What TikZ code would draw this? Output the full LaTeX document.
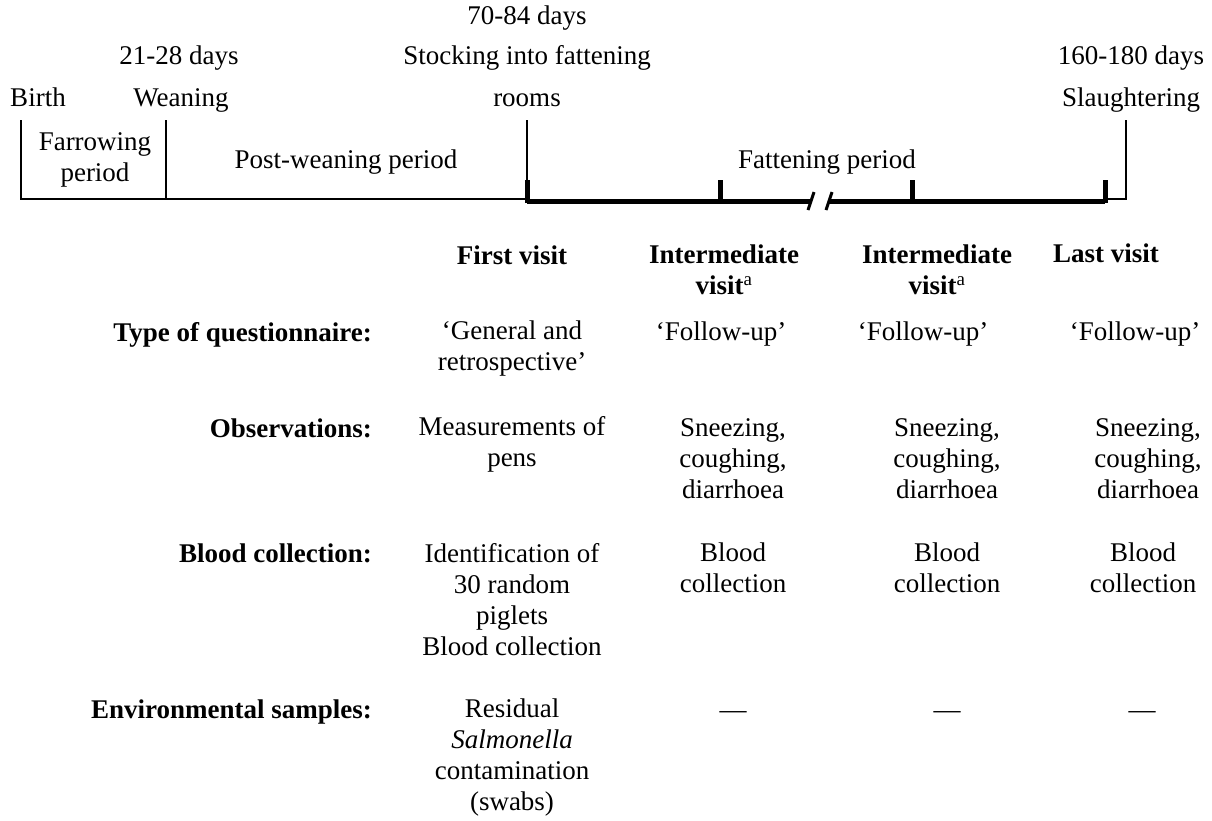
\documentclass[tikz,border=0pt]{standalone}
\usepackage{fontspec}
\setmainfont{Liberation Serif}
\begin{document}
\begin{tikzpicture}[x=1pt,y=-1pt,
  txt/.style={inner sep=0pt,align=center,font=\fontsize{27}{31}\selectfont},
  one/.style={txt,text height=19pt,text depth=6pt},
  lab/.style={one,anchor=east,font=\fontsize{27}{31}\selectfont\bfseries},
  hdr/.style={txt,font=\fontsize{27}{31}\selectfont\bfseries},
  hdrone/.style={one,font=\fontsize{27}{31}\selectfont\bfseries},
  thin/.style={line width=2pt},
  thick/.style={line width=5pt},
  slash/.style={line width=3pt}]
\useasboundingbox (0,0) rectangle (1212,820);
% top labels
\node[one] (d7084) at (527,18) {70-84 days};
\node[one] (d2128) at (179,58) {21-28 days};
\node[one] (stock) at (527,58) {Stocking into fattening};
\node[one] (d160) at (1131,58) {160-180 days};
\node[one] (birth) at (38,100) {Birth};
\node[one] (wean) at (181,100) {Weaning};
\node[one] (rooms) at (527,100) {rooms};
\node[one] (slaug) at (1131,100) {Slaughtering};
\node[txt] (farrow) at (95,160) {Farrowing\\period};
\node[one] (post) at (346,162) {Post-weaning period};
\node[one] (fatten) at (827,162) {Fattening period};
% timeline coordinates
\coordinate (b0) at (21,120);  \coordinate (b1) at (21,199);
\coordinate (w0) at (166,120); \coordinate (w1) at (166,199);
\coordinate (s0) at (527,120); \coordinate (s1) at (527,199);
\coordinate (e0) at (1126,120); \coordinate (e1) at (1126,199);
\coordinate (t1) at (527,201); \coordinate (t2) at (720,201);
\coordinate (t3) at (912,201); \coordinate (t4) at (1105,201);
\coordinate (brA) at (811,201); \coordinate (brB) at (829,201);
\draw[thin] (b0) -- (b1) -- (s1);
\draw[thin] (w0) -- (w1);
\draw[thin] (s0) -- (s1);
\draw[thin] (e0) -- (e1) -- (t4 |- e1);
\draw[thick] (t1) -- (brA);
\draw[thick] (brB) -- (t4);
\draw[slash] ([shift={(-3,9)}]brA) -- ([shift={(3,-9)}]brA);
\draw[slash] ([shift={(-3,9)}]brB) -- ([shift={(3,-9)}]brB);
\foreach \t in {t1,t2,t3,t4} \draw[thick] ([yshift=-2]\t) -- ([yshift=21]\t);
% headers
\node[hdrone] (v1) at (512,258) {First visit};
\node[hdr] (v2) at (724,270) {Intermediate\\visit\textsuperscript{\mdseries a}};
\node[hdr] (v3) at (937,270) {Intermediate\\visit\textsuperscript{\mdseries a}};
\node[hdrone] (v4) at (1106,256) {Last visit};
% row labels
\node[lab] (rq) at (372,335) {Type of questionnaire:};
\node[lab] (ro) at (372,431) {Observations:};
\node[lab] (rb) at (372,556) {Blood collection:};
\node[lab] (re) at (372,712) {Environmental samples:};
% questionnaire row
\node[txt] (q1) at (512,348) {‘General and\\retrospective’};
\node[one] (q2) at (721,334) {‘Follow-up’};
\node[one] (q3) at (923,334) {‘Follow-up’};
\node[one] (q4) at (1135,334) {‘Follow-up’};
% observations row
\node[txt] (o1) at (512,444) {Measurements of\\pens};
\node[txt] (o2) at (733,459) {Sneezing,\\coughing,\\diarrhoea};
\node[txt] (o3) at (947,459) {Sneezing,\\coughing,\\diarrhoea};
\node[txt] (o4) at (1148,459) {Sneezing,\\coughing,\\diarrhoea};
% blood row
\node[txt] (bl1) at (512,600) {Identification of\\30 random\\piglets\\Blood collection};
\node[txt] (bl2) at (733,568) {Blood\\collection};
\node[txt] (bl3) at (947,568) {Blood\\collection};
\node[txt] (bl4) at (1143,568) {Blood\\collection};
% environmental row
\node[txt] (en1) at (512,757) {Residual\\\textit{Salmonella}\\contamination\\(swabs)};
\node[one] (en2) at (733,712) {—};
\node[one] (en3) at (947,712) {—};
\node[one] (en4) at (1142,712) {—};
\end{tikzpicture}
\end{document}
